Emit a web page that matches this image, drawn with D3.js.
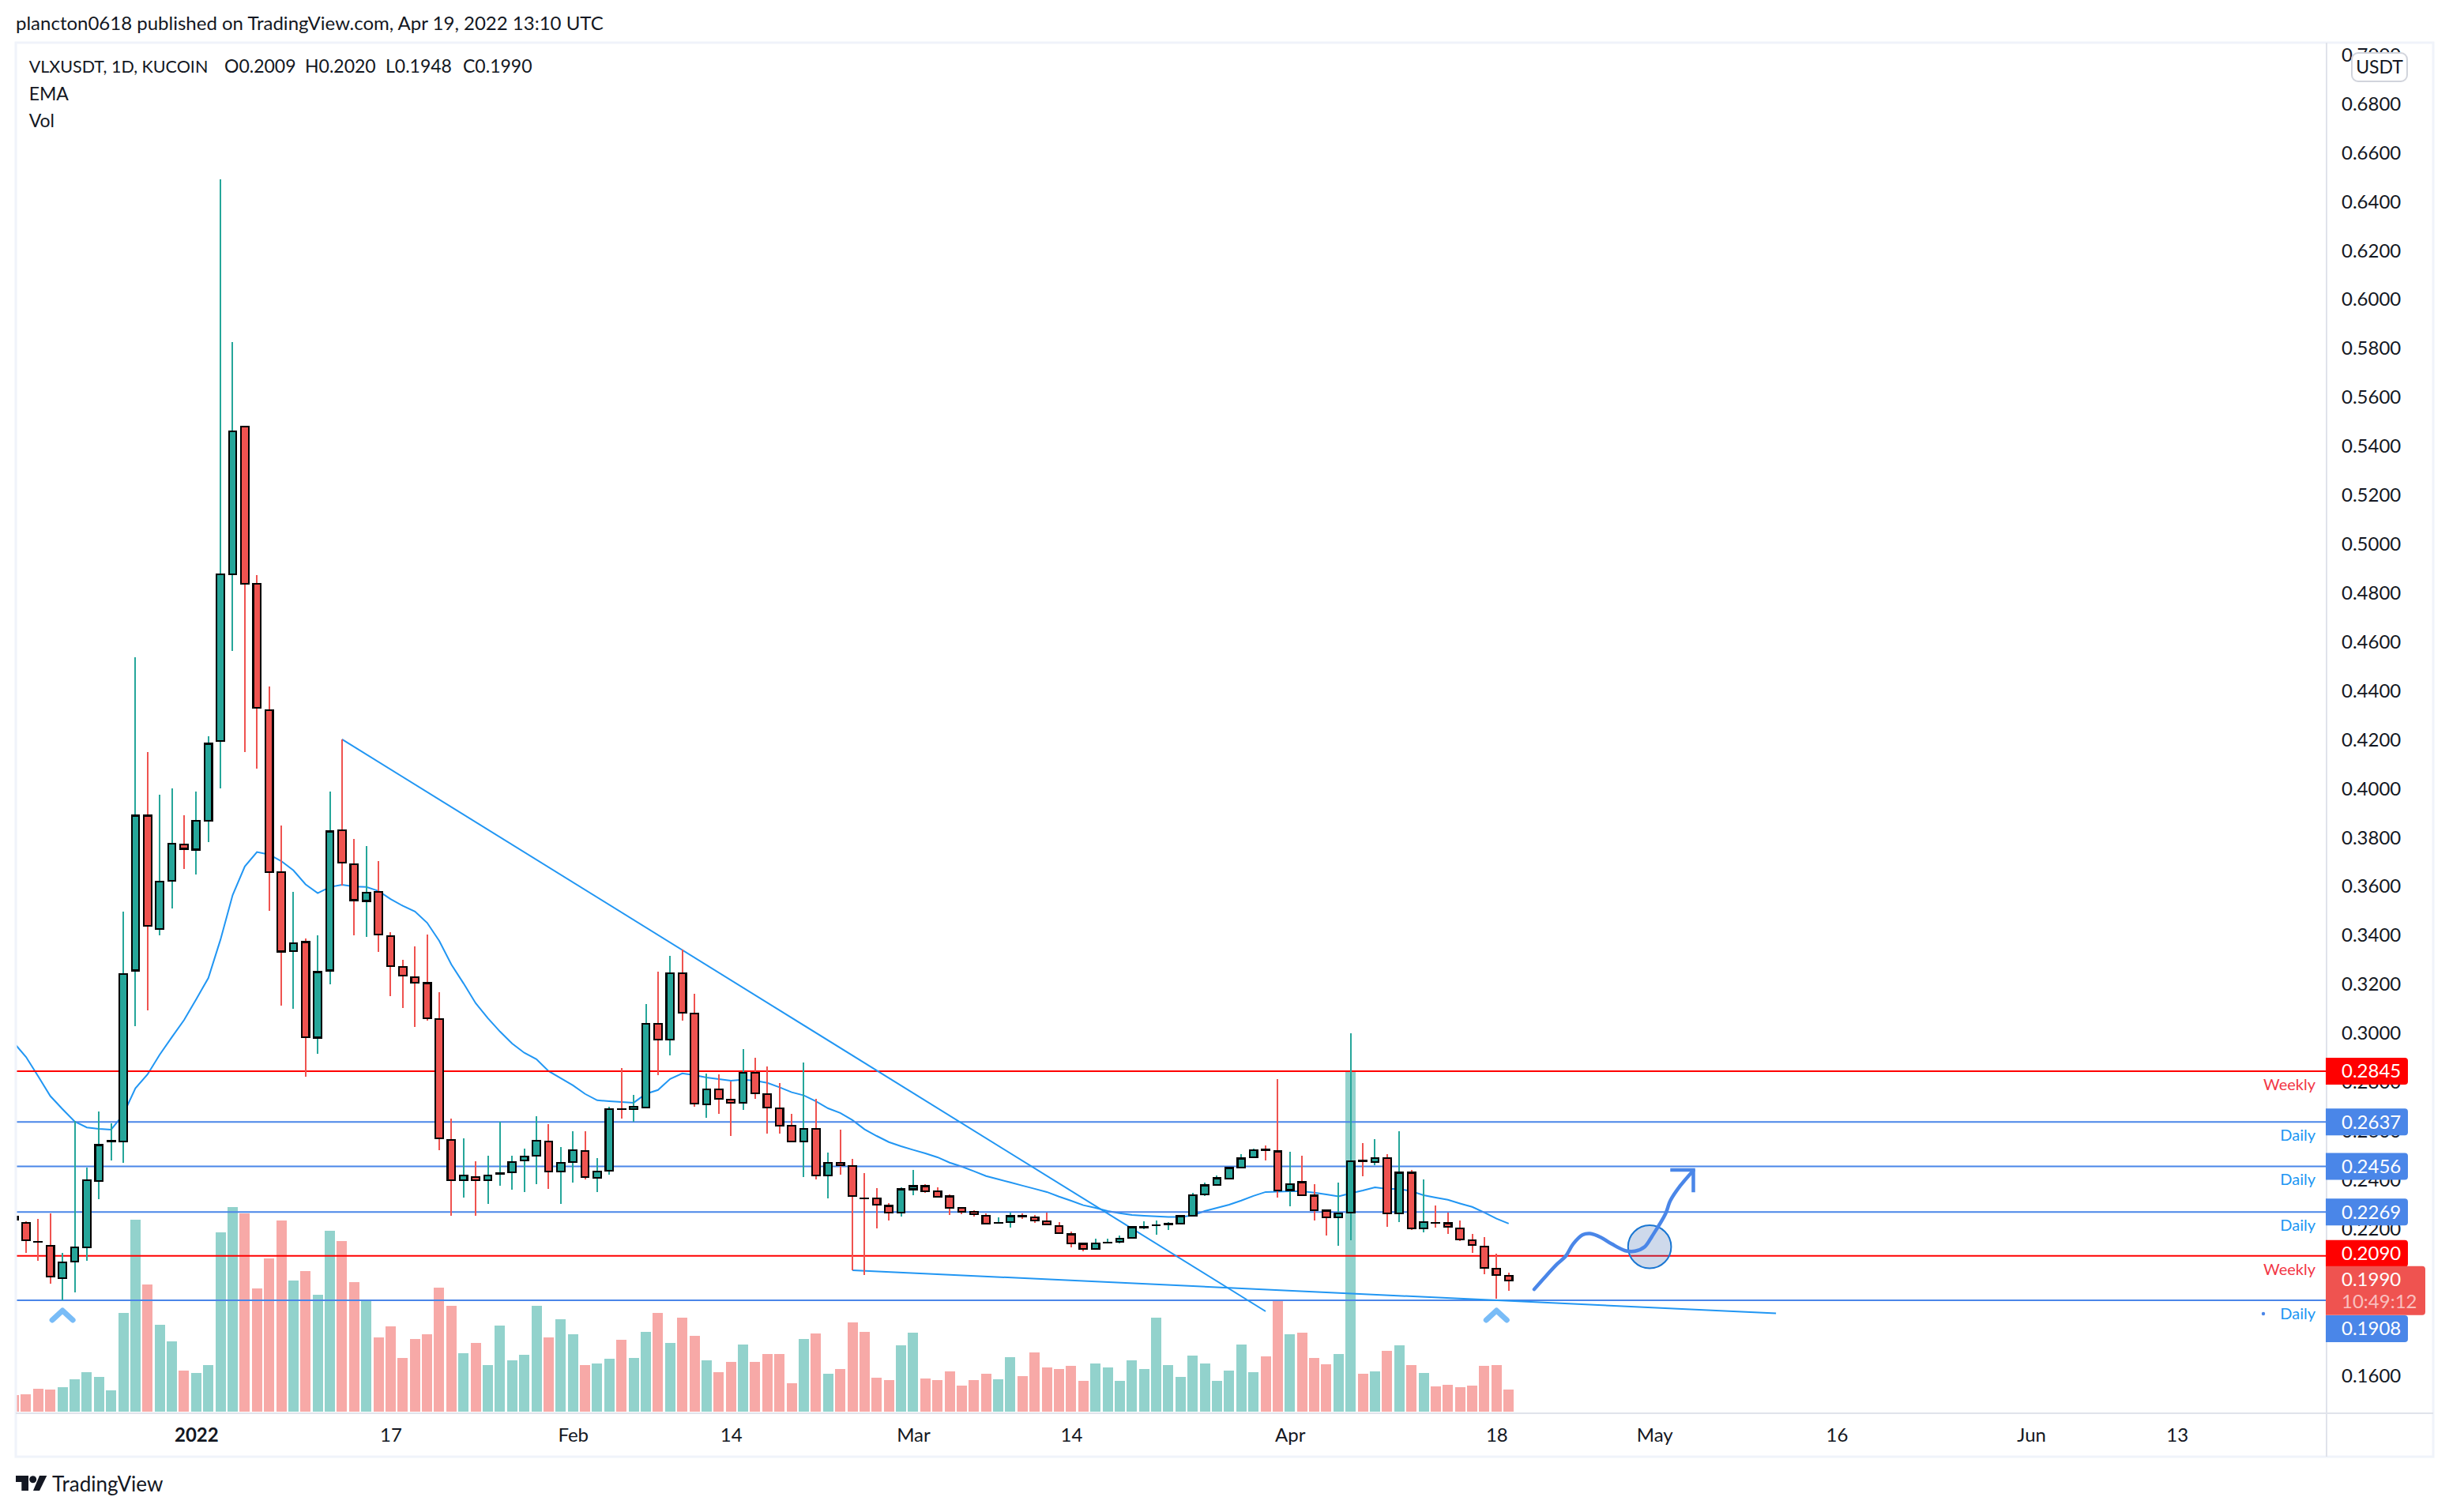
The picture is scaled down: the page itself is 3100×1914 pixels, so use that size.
<!DOCTYPE html>
<html><head><meta charset="utf-8">
<script src="https://d3js.org/d3.v7.min.js"></script>
<style>
html,body{margin:0;padding:0;background:#fff}
svg{display:block}
text{font-family:Lato,"Open Sans",sans-serif;fill:#131722}
</style></head><body>
<svg id="c" width="3100" height="1914"></svg>
<script>
// Daily candles, first bar 2021-12-17
const firstDay = Date.UTC(2021,11,17);
const open = [.2251,.2225,.2148,.2131,.1999,.2067,.2124,.2396,.2558,.2558,.3257,.3890,.3427,.3623,.3773,.3751,.3869,.4194,.4878,.5481,.4839,.4322,.3660,.3336,.3373,.2982,.3257,.3830,.3692,.3541,.3578,.3398,.3272,.3229,.3205,.3059,.2565,.2400,.2413,.2400,.2425,.2432,.2480,.2500,.2558,.2435,.2474,.2519,.2409,.2438,.2691,.2690,.2697,.3039,.2974,.3246,.3081,.2710,.2771,.2729,.2716,.2839,.2752,.2694,.2622,.2558,.2609,.2419,.2471,.2458,.2326,.2326,.2294,.2267,.2362,.2375,.2355,.2333,.2285,.2270,.2255,.2224,.2228,.2253,.2248,.2232,.2213,.2178,.2139,.2118,.2143,.2148,.2164,.2207,.2214,.2218,.2222,.2254,.2341,.2380,.2406,.2451,.2493,.2525,.2517,.2359,.2391,.2336,.2275,.2247,.2266,.2478,.2474,.2490,.2264,.2430,.2202,.2226,.2223,.2203,.2154,.2129,.2038,.2009];
const high = [.2262,.2232,.2241,.2264,.2102,.2643,.2451,.2681,.2632,.3496,.4538,.4150,.3974,.4001,.3892,.3989,.4216,.6492,.5828,.5484,.4874,.4418,.3848,.3578,.3388,.3401,.3989,.4202,.3796,.3764,.3704,.3414,.3299,.3356,.3404,.3168,.2652,.2571,.2477,.2500,.2637,.2500,.2529,.2662,.2629,.2535,.2600,.2600,.2490,.2700,.2858,.2748,.3120,.3252,.3317,.3341,.3162,.2836,.2832,.2803,.2936,.2900,.2865,.2797,.2671,.2881,.2732,.2513,.2606,.2487,.2429,.2367,.2306,.2370,.2441,.2383,.2370,.2341,.2285,.2277,.2264,.2248,.2267,.2264,.2258,.2267,.2228,.2189,.2144,.2160,.2160,.2173,.2212,.2232,.2235,.2228,.2258,.2347,.2390,.2419,.2449,.2505,.2529,.2541,.2813,.2516,.2500,.2383,.2275,.2390,.3000,.2551,.2567,.2505,.2600,.2441,.2403,.2296,.2267,.2235,.2180,.2167,.2099,.2020];
const low = [.2230,.2102,.2070,.1976,.1908,.1939,.2070,.2323,.2480,.2471,.3029,.3094,.3401,.3511,.3672,.3650,.3782,.4001,.4564,.4150,.4082,.3501,.3113,.3101,.2822,.2916,.3201,.3605,.3401,.3395,.3334,.3153,.3103,.3027,.3052,.2523,.2254,.2329,.2254,.2303,.2377,.2361,.2351,.2383,.2364,.2303,.2390,.2403,.2351,.2422,.2651,.2638,.2694,.2829,.2910,.3052,.2700,.2655,.2671,.2580,.2687,.2732,.2590,.2590,.2558,.2412,.2403,.2325,.2422,.2031,.2012,.2202,.2235,.2251,.2339,.2346,.2332,.2258,.2261,.2249,.2222,.2222,.2206,.2242,.2226,.2219,.2183,.2125,.2110,.2118,.2141,.2142,.2164,.2199,.2176,.2196,.2222,.2254,.2336,.2380,.2406,.2451,.2493,.2480,.2329,.2293,.2338,.2235,.2173,.2132,.2155,.2416,.2461,.2209,.2228,.2196,.2186,.2206,.2180,.2151,.2102,.2015,.1915,.1948];
const close = [.2238,.2154,.2146,.2005,.2064,.2124,.2400,.2543,.2559,.3242,.3890,.3439,.3620,.3775,.3754,.3869,.4184,.4878,.5461,.4839,.4330,.3660,.3334,.3368,.2985,.3250,.3825,.3697,.3544,.3576,.3403,.3275,.3237,.3207,.3062,.2571,.2400,.2419,.2400,.2419,.2427,.2474,.2497,.2561,.2435,.2471,.2522,.2412,.2435,.2690,.2689,.2700,.3039,.2974,.3246,.3084,.2713,.2771,.2732,.2716,.2839,.2755,.2697,.2622,.2558,.2609,.2419,.2471,.2461,.2335,.2324,.2299,.2267,.2362,.2375,.2354,.2332,.2287,.2270,.2260,.2222,.2226,.2252,.2251,.2235,.2219,.2183,.2141,.2118,.2142,.2145,.2161,.2207,.2209,.2216,.2220,.2252,.2339,.2378,.2407,.2449,.2488,.2523,.2521,.2358,.2384,.2338,.2277,.2247,.2264,.2477,.2476,.2490,.2264,.2430,.2202,.2229,.2224,.2209,.2157,.2134,.2041,.2012,.1990];
const volume = [21,22,29,28,31,41,50,44,27,125,243,161,110,89,52,49,59,227,259,251,156,194,242,166,178,148,229,216,164,141,94,108,68,92,98,157,134,74,87,59,109,65,72,134,94,117,98,59,61,67,91,68,101,125,87,119,96,65,50,63,85,63,73,73,36,92,99,48,54,113,101,43,40,84,100,42,40,51,33,40,48,41,69,45,75,56,54,58,39,61,56,39,65,54,119,59,44,71,61,39,52,85,50,70,140,98,100,68,60,73,431,48,51,77,84,59,49,32,34,31,33,58,59,28];
const ema = [.2961,.2903,.2824,.2743,.2690,.2639,.2615,.2609,.2606,.2668,.2775,.2832,.2913,.2984,.3054,.3139,.3226,.3383,.3565,.3682,.3741,.3731,.3704,.3666,.3609,.3573,.3598,.3607,.3600,.3598,.3582,.3549,.3521,.3498,.3452,.3378,.3281,.3204,.3123,.3062,.3007,.2958,.2920,.2894,.2845,.2816,.2787,.2752,.2726,.2722,.2719,.2716,.2752,.2768,.2813,.2836,.2829,.2819,.2813,.2806,.2810,.2806,.2797,.2779,.2759,.2746,.2722,.2693,.2674,.2645,.2607,.2580,.2555,.2538,.2523,.2509,.2493,.2471,.2455,.2436,.2416,.2403,.2390,.2377,.2364,.2351,.2332,.2315,.2297,.2286,.2273,.2264,.2257,.2254,.2251,.2249,.2249,.2255,.2273,.2286,.2299,.2316,.2335,.2351,.2352,.2354,.2354,.2348,.2341,.2333,.2346,.2357,.2370,.2364,.2364,.2354,.2338,.2328,.2319,.2304,.2290,.2267,.2242,.2222];

const priceTicks = [.70,.68,.66,.64,.62,.60,.58,.56,.54,.52,.50,.48,.46,.44,.42,.40,.38,.36,.34,.32,.30,.28,.26,.24,.22,.20,.18,.16];
const timeTicks = [["2022",2022,0,1],["17",2022,0,17],["Feb",2022,1,1],["14",2022,1,14],["Mar",2022,2,1],["14",2022,2,14],["Apr",2022,3,1],["18",2022,3,18],["May",2022,4,1],["16",2022,4,16],["Jun",2022,5,1],["13",2022,5,13]];

// horizontal levels: price, colour kind, note, badge shift
const levelPrice = [.2845,.2637,.2456,.2269,.2090,.1908];
const levelKind  = ["w","d","d","d","w","d"];
const levelNote  = ["Weekly","Daily","Daily","Daily","Weekly","Daily"];
const levelShift = [0,0,0,0,-3,36];
const levelColor = {w:"#ff0000",d:"#4a86e8"};
const noteColor  = {w:"#f23645",d:"#2196f3"};

// legend pieces
const legendParts = ["VLXUSDT, 1D, KUCOIN","O0.2009","H0.2020","L0.1948","C0.1990"];
const legendX = [36.7,284,386,488,586];
const legendSize = [21.5,23,23,23,23];

// drawings, [bar number, price]
const trendA = [[27,.4202],[103,.1863]];
const trendB = [[69,.2031],[145,.1855]];
const chevrons = [4,122];
const scribble = [[125.1,.1953],[125.9,.1998],[127.0,.2057],[127.7,.2089],[128.3,.2138],[129.1,.2176],[129.7,.2181],[130.6,.2165],[131.5,.2138],[132.6,.2111],[133.4,.2109],[134.2,.2127],[134.8,.2170],[135.9,.2261],[136.3,.2315],[137.1,.2375],[138.2,.2439]];
const arrowHead = [[136.3,.2441],[138.2,.2441],[138.2,.2350]];
const circleAt = [134.6,.2127];

const GREEN="#26a69a", RED="#ef5350", VGREEN="#92d2cc", VRED="#f7a9a7";
const DAY=864e5;
const dayOf = i => new Date(firstDay + i*DAY);

const svg = d3.select("#c");
const L=20,T=54,PR=2945,FR=3080,XB=1789,FB=1844;
const x = d3.scaleUtc().domain([dayOf(0),dayOf(122)]).range([17.6,1894.3]);
const y = d3.scaleLinear().domain([.68,.16]).range([131.6,1741.4]);
const v = d3.scaleLinear().domain([0,431]).range([1787,1356]);
const bars = d3.range(open.length);

svg.append("defs").append("clipPath").attr("id","pane").append("rect").attr("x",L).attr("y",T).attr("width",PR-L).attr("height",XB-T);
const pane = svg.append("g").attr("clip-path","url(#pane)");

// volume
pane.append("g").selectAll("rect").data(bars).join("rect")
  .attr("x",i=>x(dayOf(i))-6.5).attr("width",13)
  .attr("y",i=>v(volume[i])).attr("height",i=>v(0)-v(volume[i]))
  .attr("fill",i=>close[i]>=open[i]?VGREEN:VRED).attr("shape-rendering","crispEdges");

// EMA
pane.append("path").datum(bars)
  .attr("d",d3.line().x(i=>x(dayOf(i))).y(i=>y(ema[i])))
  .attr("fill","none").attr("stroke","#2196f3").attr("stroke-width",2);

// levels
pane.append("g").selectAll("line").data(levelPrice).join("line")
  .attr("x1",L).attr("x2",PR).attr("y1",d=>y(d)).attr("y2",d=>y(d))
  .attr("stroke",(d,i)=>levelColor[levelKind[i]]).attr("stroke-width",2);

// trend lines
const lineBar = d3.line().x(d=>x(dayOf(d[0]))).y(d=>y(d[1]));
[trendA,trendB].forEach(t=>pane.append("path").attr("d",lineBar(t)).attr("fill","none").attr("stroke","#2196f3").attr("stroke-width",2));

// candles
const cg = pane.append("g").selectAll("g").data(bars).join("g");
cg.append("rect").attr("x",i=>x(dayOf(i))-1).attr("width",2)
  .attr("y",i=>y(high[i])).attr("height",i=>y(low[i])-y(high[i]))
  .attr("fill",i=>close[i]>=open[i]?GREEN:RED).attr("shape-rendering","crispEdges");
cg.append("rect").attr("x",i=>x(dayOf(i))-4.8).attr("width",9.6)
  .attr("y",i=>y(Math.max(open[i],close[i])))
  .attr("height",i=>Math.abs(y(open[i])-y(close[i])))
  .attr("fill",i=>close[i]>=open[i]?GREEN:RED)
  .attr("stroke","#000").attr("stroke-width",2.2).attr("shape-rendering","crispEdges");

// chevrons
pane.append("g").selectAll("path").data(chevrons).join("path")
  .attr("d",i=>{const c=x(dayOf(i));return d3.line()([[c-13,1671],[c,1659],[c+13,1671]]);})
  .attr("fill","none").attr("stroke","#79bcf7").attr("stroke-width",7).attr("stroke-linecap","round").attr("stroke-linejoin","round");

// forecast sketch
pane.append("circle").attr("cx",x(dayOf(circleAt[0]))).attr("cy",y(circleAt[1])).attr("r",27.3)
  .attr("fill","rgba(60,105,175,0.25)").attr("stroke","#1976d2").attr("stroke-width",2);
pane.append("path").attr("d",d3.line().x(d=>x(dayOf(d[0]))).y(d=>y(d[1])).curve(d3.curveCatmullRom)(scribble))
  .attr("fill","none").attr("stroke","#4a86e8").attr("stroke-width",4.5).attr("stroke-linecap","round");
pane.append("path").attr("d",lineBar(arrowHead)).attr("fill","none").attr("stroke","#4a86e8").attr("stroke-width",4.5);

// level notes
svg.append("g").selectAll("text").data(levelNote).join("text")
  .attr("x",2931).attr("y",(d,i)=>y(levelPrice[i])+17).attr("dy","0.35em").attr("text-anchor","end")
  .style("font-size","20px").style("fill",(d,i)=>noteColor[levelKind[i]]).text(d=>d);
svg.append("circle").attr("cx",2865).attr("cy",1663).attr("r",2.2).attr("fill","#4a86e8");

// frame
svg.append("rect").attr("x",L).attr("y",T).attr("width",FR-L).attr("height",FB-T).attr("fill","none").attr("stroke","#f0f3fa").attr("stroke-width",3);
svg.append("line").attr("x1",PR).attr("x2",PR).attr("y1",T).attr("y2",FB).attr("stroke","#e0e3eb").attr("stroke-width",2);
svg.append("line").attr("x1",L).attr("x2",FR).attr("y1",XB).attr("y2",XB).attr("stroke","#e0e3eb").attr("stroke-width",2);

// price axis
const axR = svg.append("g").attr("transform",`translate(${2964},0)`)
  .call(d3.axisRight(y).tickValues(priceTicks).tickSize(0).tickPadding(0).tickFormat(d3.format(".4f")));
axR.select(".domain").remove();
axR.selectAll("text").style("font-size","24px").style("fill","#131722").style("font-family","Lato");

// time axis
const tickDates = timeTicks.map(t=>new Date(Date.UTC(t[1],t[2],t[3])));
const axB = svg.append("g").attr("transform",`translate(0,${1808})`)
  .call(d3.axisBottom(x).tickValues(tickDates).tickSize(0).tickPadding(0).tickFormat((d,i)=>timeTicks[i][0]));
axB.select(".domain").remove();
axB.selectAll("text").style("font-size","24px").style("fill","#131722").style("font-family","Lato")
  .style("font-weight",(d,i)=>i===0?"700":"400");

// price badges
const badge = (by,bh,w,fill)=>svg.append("path").attr("fill",fill)
  .attr("d",`M2944 ${by}H${2944+w-4}q4 0 4 4V${by+bh-4}q0 4 -4 4H2944Z`);
levelPrice.forEach((p,i)=>{
  const cy=y(p)+levelShift[i];
  badge(cy-17,34,104,levelColor[levelKind[i]]);
  svg.append("text").attr("x",2964).attr("y",cy).attr("dy","0.35em").style("font-size","24px").style("fill","#fff").text(d3.format(".4f")(p));
});
const lastY=y(close[close.length-1]);
badge(lastY-18,62,126,RED);
svg.append("text").attr("x",2964).attr("y",lastY-1).attr("dy","0.35em").style("font-size","24px").style("fill","#fff").text(d3.format(".4f")(close[close.length-1]));
svg.append("text").attr("x",2964).attr("y",lastY+27).attr("dy","0.35em").style("font-size","24px").style("fill","rgba(255,255,255,0.65)").text("10:49:12");

// currency badge
svg.append("rect").attr("x",2977).attr("y",67).attr("width",70).attr("height",36).attr("rx",8)
  .attr("fill","#fff").attr("stroke","#d1d4dc").attr("stroke-width",2);
svg.append("text").attr("x",3012).attr("y",85).attr("dy","0.35em").attr("text-anchor","middle").style("font-size","23px").text("USDT");

// header and legend
svg.append("text").attr("x",20).attr("y",30).attr("dy","0.35em").style("font-size","24px").text("plancton0618 published on TradingView.com, Apr 19, 2022 13:10 UTC");
svg.append("g").selectAll("text").data(legendParts).join("text")
  .attr("x",(d,i)=>legendX[i]).attr("y",84).attr("dy","0.35em").style("font-size",(d,i)=>legendSize[i]+"px").text(d=>d);
svg.append("text").attr("x",36.7).attr("y",119).attr("dy","0.35em").style("font-size","23px").text("EMA");
svg.append("text").attr("x",36.7).attr("y",153).attr("dy","0.35em").style("font-size","23px").text("Vol");

// footer mark
const logo = svg.append("g").attr("fill","#131722");
logo.append("path").attr("d","M20 1868H36V1887H27.3V1876H20Z");
logo.append("circle").attr("cx",41.7).attr("cy",1872.7).attr("r",4.5);
logo.append("path").attr("d","M50 1868H59.3L50 1887H42Z");
svg.append("text").attr("x",66).attr("y",1879).attr("dy","0.35em").style("font-size","26px").text("TradingView");
</script>
</body></html>
